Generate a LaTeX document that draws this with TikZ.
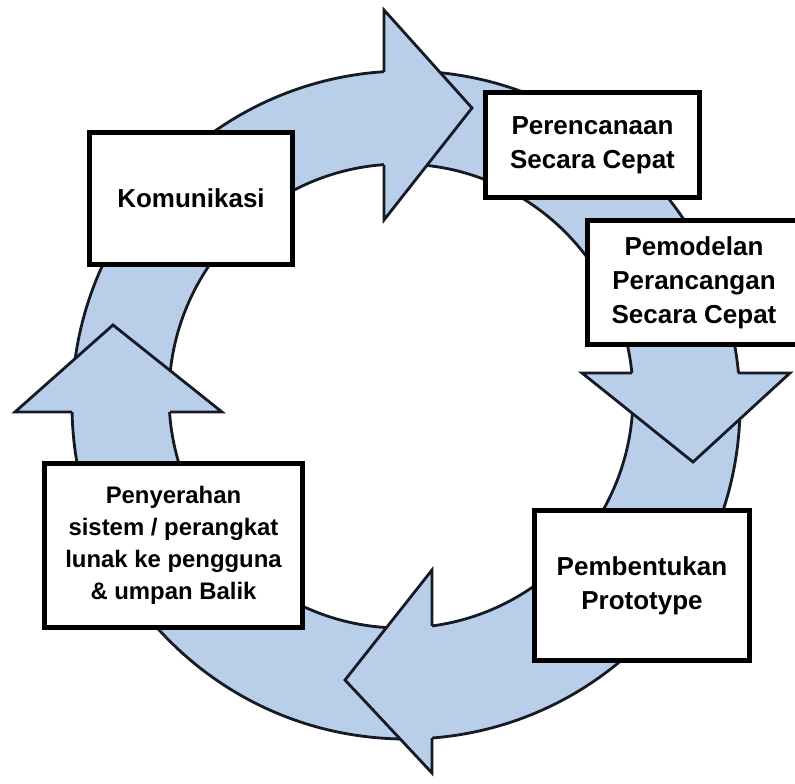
\documentclass[tikz,border=0pt]{standalone}
\usepackage{fontspec}
\setmainfont{Liberation Sans}
\definecolor{ringblue}{RGB}{184,206,233}
\definecolor{ringline}{RGB}{22,26,36}

\begin{document}
\begin{tikzpicture}[line join=miter,
  tahap/.style={draw=black,line width=1.4pt,fill=white,align=center,inner sep=0pt,
    font=\fontsize{7.4}{9.7}\selectfont\bfseries},
  garis/.style={draw=ringline,line width=0.8pt}]
\useasboundingbox (0,0) rectangle (7.95,7.83);
\coordinate (Cl) at (4.06,3.78);
\coordinate (Cd) at (4.01,3.87);
% the ring
\fill[ringblue,even odd rule] (Cl) circle (3.34) (Cd) circle (2.32);
\draw[garis] (Cl) circle (3.34) (Cd) circle (2.32);
% arrow heads, clockwise from the top
\fill[ringblue] (3.84,7.73) -- (4.72,6.75) -- (3.84,5.63) -- cycle;
\draw[garis] (3.84,7.11) -- (3.84,7.73) -- (4.72,6.75) -- (3.84,5.63) -- (3.84,6.18);
\fill[ringblue] (5.82,4.10) -- (6.93,3.21) -- (7.90,4.10) -- cycle;
\draw[garis] (6.32,4.10) -- (5.82,4.10) -- (6.93,3.21) -- (7.90,4.10) -- (7.38,4.10);
\fill[ringblue] (4.32,2.13) -- (3.45,1.03) -- (4.32,0.10) -- cycle;
\draw[garis] (4.32,1.57) -- (4.32,2.13) -- (3.45,1.03) -- (4.32,0.10) -- (4.32,0.45);
\fill[ringblue] (0.15,3.71) -- (1.13,4.58) -- (2.22,3.71) -- cycle;
\draw[garis] (0.72,3.71) -- (0.15,3.71) -- (1.13,4.58) -- (2.22,3.71) -- (1.70,3.71);
% the stages
\node[tahap,minimum width=2.03cm,minimum height=1.32cm] (komunikasi) at (1.91,5.845) {Komunikasi};
\node[tahap,minimum width=2.14cm,minimum height=1.05cm] (rencana) at (5.925,6.38) {Perencanaan\\Secara Cepat};
\node[tahap,minimum width=2.13cm,minimum height=1.24cm] (model) at (6.94,5.005) {Pemodelan\\Perancangan\\Secara Cepat};
\node[tahap,minimum width=2.15cm,minimum height=1.50cm] (prototipe) at (6.42,1.975) {Pembentukan\\Prototype};
\node[tahap,minimum width=2.58cm,minimum height=1.64cm,font=\fontsize{6.8}{9.1}\selectfont\bfseries] (serah) at (1.735,2.375)
  {Penyerahan\\sistem / perangkat\\lunak ke pengguna\\\& umpan Balik};
\end{tikzpicture}
\end{document}
